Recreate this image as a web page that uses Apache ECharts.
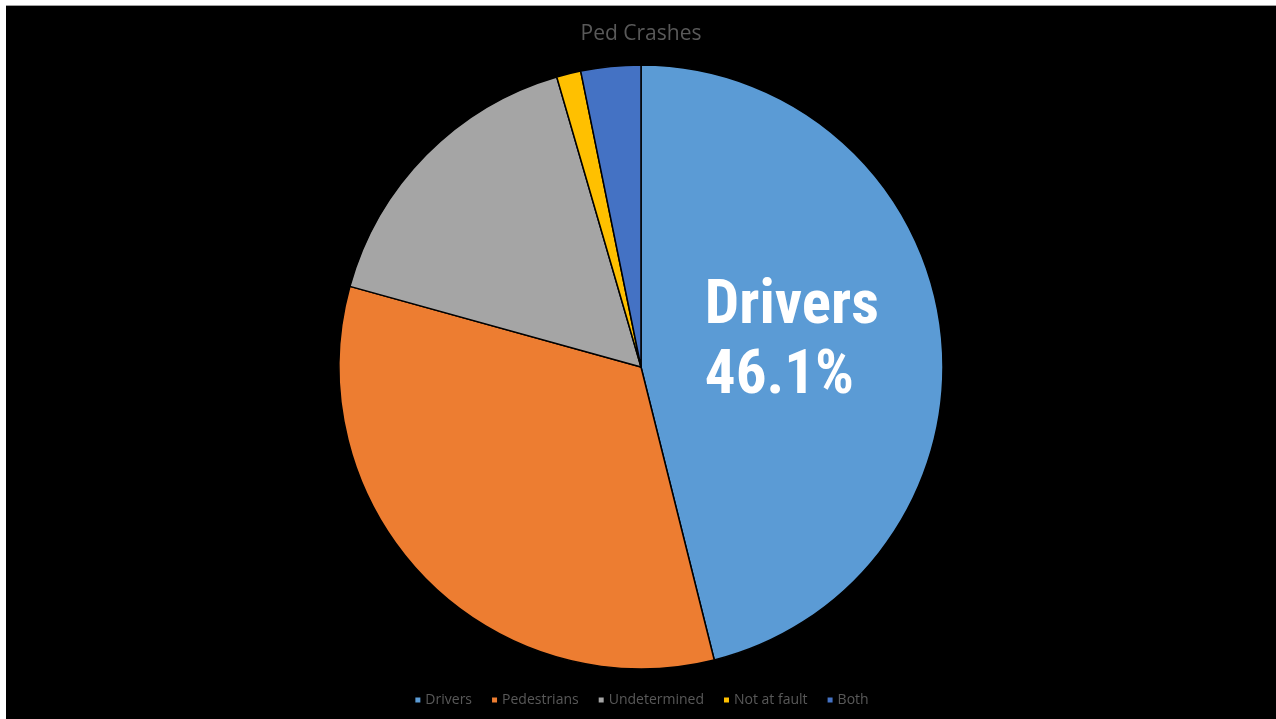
<!DOCTYPE html>
<html>
<head>
<meta charset="utf-8">
<script src="https://cdn.jsdelivr.net/npm/echarts@6/dist/echarts.min.js"></script>
<style>
  html, body { margin: 0; padding: 0; background: #ffffff; }
  #chart {
    position: absolute;
    left: 6px;
    top: 5px;
    width: 1270px;
    height: 714px;
    background: #000000;
    border-top: 1px solid #a0a0a0;
  }
</style>
</head>
<body>
<div id="chart"></div>
<script>
// slice names and shares (percent)
const categories = ['Drivers', 'Pedestrians', 'Undetermined', 'Not at fault', 'Both'];
const shares = [46.1, 33.2, 16.2, 1.3, 3.2];
const colors = ['#5B9BD5', '#ED7D31', '#A5A5A5', '#FFC000', '#4472C4'];

var chart = echarts.init(document.getElementById('chart'));

var data = [];
for (var i = 0; i < categories.length; i++) {
  var item = {
    name: categories[i],
    value: shares[i],
    itemStyle: { color: colors[i] }
  };
  // only the biggest slice carries a label
  if (i === 0) {
    item.label = {
      show: true,
      position: 'inside',
      formatter: '{t|{b}}\n{t|{d}%}',
      offset: [-3, -5],
      rich: {
        t: {
          color: '#ffffff',
          fontFamily: '"Roboto Condensed"',
          fontWeight: 'bold',
          fontSize: 61,
          lineHeight: 70,
          width: 172,
          align: 'left'
        }
      }
    };
  }
  data.push(item);
}

var option = {
  backgroundColor: '#000000',
  animation: false,
  title: {
    text: 'Ped Crashes',
    left: 'center',
    top: 13,
    textStyle: {
      color: '#595959',
      fontFamily: '"Open Sans", sans-serif',
      fontWeight: 'normal',
      fontSize: 21
    }
  },
  legend: {
    bottom: 8,
    left: 'center',
    icon: 'rect',
    itemWidth: 7,
    itemHeight: 7,
    itemGap: 18,
    textStyle: {
      color: '#595959',
      fontFamily: '"Open Sans", sans-serif',
      fontSize: 14,
      padding: [0, 0, 0, -1]
    },
    data: categories
  },
  series: [{
    type: 'pie',
    center: [635, 361],
    radius: [0, 302],
    startAngle: 90,
    clockwise: true,
    label: { show: false },
    labelLine: { show: false },
    emphasis: { disabled: true },
    itemStyle: {
      borderColor: '#000000',
      borderWidth: 1.5
    },
    data: data
  }]
};

chart.setOption(option);
</script>
</body>
</html>
